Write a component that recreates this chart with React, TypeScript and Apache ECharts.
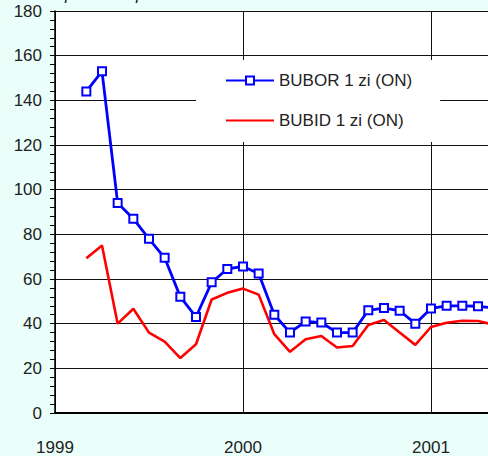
import React, { useEffect, useRef } from "react";
import * as echarts from "echarts";

const startYear = 1999;
const firstMonthIndex = 2; // March 1999
const yTicks = [0, 20, 40, 60, 80, 100, 120, 140, 160, 180];
const seriesNames = ["BUBOR 1 zi (ON)", "BUBID 1 zi (ON)"];
const bubor = [144, 153, 94, 87, 78, 69.5, 52, 43, 58.5, 64.5, 65.6, 62.5, 44, 36, 41, 40.5, 36, 36, 46, 47, 45.8, 40, 46.8, 48, 48, 47.8, 47];
const bubid = [69.3, 75, 40, 46.7, 36, 32, 24.6, 30.8, 50.8, 53.8, 55.7, 53, 35.3, 27.4, 33, 34.5, 29.3, 30, 39.4, 41.6, 36, 30.5, 38.5, 40.4, 41.3, 41.2, 39.5];
const titleText = "procente pe an";

const FONT = "'Liberation Sans', Arial, sans-serif";

export default function App() {
  const ref = useRef<HTMLDivElement>(null);
  useEffect(() => {
    if (!ref.current) return;
    const chart = echarts.init(ref.current, null, { renderer: "svg" });
    const toPairs = (arr: number[]) => arr.map((v, i) => [firstMonthIndex + i, v]);
    chart.setOption({
      animation: false,
      backgroundColor: "#ebfffa",
      textStyle: { fontFamily: FONT },
      grid: {
        left: 55,
        top: 11,
        right: 0,
        bottom: 40,
        show: true,
        backgroundColor: "#ffffff",
        borderWidth: 0,
      },
      graphic: [
        {
          type: "text",
          left: 65,
          top: -14,
          style: {
            text: titleText,
            fontSize: 17,
            fontStyle: "italic",
            fontFamily: FONT,
            fill: "#222",
          },
        },
      ],
      legend: {
        orient: "vertical",
        left: 196,
        top: 60,
        padding: [12, 28, 13, 29],
        backgroundColor: "#ffffff",
        itemWidth: 48,
        itemHeight: 10,
        itemGap: 23,
        textStyle: { fontSize: 17, color: "#222", fontFamily: FONT },
        data: [
          { name: seriesNames[0] },
          { name: seriesNames[1], itemStyle: { opacity: 0 } },
        ],
      },
      xAxis: {
        type: "value",
        min: 0,
        max: 27.64,
        interval: 12,
        axisLine: { show: true, lineStyle: { color: "#000", width: 2 } },
        axisTick: { show: false },
        splitLine: { show: true, lineStyle: { color: "#111", width: 1 } },
        axisLabel: {
          margin: 26,
          fontSize: 17,
          color: "#222",
          fontFamily: FONT,
          showMaxLabel: false,
          formatter: (v: number) => (Math.abs(v % 12) < 1e-6 ? String(startYear + v / 12) : ""),
        },
      },
      yAxis: {
        type: "value",
        min: yTicks[0],
        max: yTicks[yTicks.length - 1],
        interval: 20,
        axisLine: { show: true, lineStyle: { color: "#000", width: 1.5 } },
        axisTick: { show: true, inside: false, length: 5, lineStyle: { color: "#000" } },
        minorTick: { show: true, splitNumber: 5, length: 5, lineStyle: { color: "#000" } },
        splitLine: { show: true, lineStyle: { color: "#111", width: 1 } },
        axisLabel: { margin: 13, fontSize: 17, color: "#222", fontFamily: FONT },
      },
      series: [
        {
          name: seriesNames[0],
          type: "line",
          data: toPairs(bubor),
          symbol: "emptyRect",
          symbolSize: 8,
          color: "#0000ff",
          lineStyle: { color: "#0000ff", width: 2.8 },
          itemStyle: { color: "#0000ff", borderWidth: 2 },
          z: 3,
        },
        {
          name: seriesNames[1],
          type: "line",
          data: toPairs(bubid),
          symbol: "none",
          color: "#ff0000",
          lineStyle: { color: "#ff0000", width: 2.6 },
          z: 2,
        },
      ],
    });
    return () => chart.dispose();
  }, []);
  return <div ref={ref} style={{ position: "fixed", left: 0, top: 0, width: 488, height: 456 }} />;
}
